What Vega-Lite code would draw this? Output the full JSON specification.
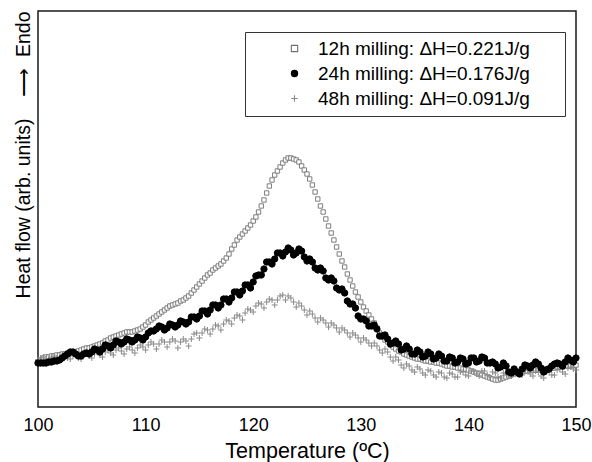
{
"$schema": "https://vega.github.io/schema/vega-lite/v6.json",
"width": 538, "height": 396,
"autosize": "none",
"padding": {"left": 38, "top": 11, "right": 16, "bottom": 55},
"background": "white",
"config": {
  "view": {"stroke": "#1a1a1a", "strokeWidth": 1.5},
  "font": "Liberation Sans",
  "axis": {"grid": false, "domain": false},
  "legend": {"orient": "none", "legendX": 207, "legendY": 21, "strokeColor": "#333333", "padding": 7, "symbolOffset": 33, "labelOffset": 14, "rowPadding": 5, "labelFontSize": 19, "labelColor": "black", "labelLimit": 500, "symbolSize": 40, "symbolStrokeWidth": 1.1}
},
"encoding": {
  "x": {"field": "t", "type": "quantitative", "scale": {"domain": [100, 150], "nice": false},
    "axis": {"title": "Temperature (ºC)", "values": [100,110,120,130,140,150], "ticks": false,
      "labelFontSize": 18, "labelColor": "black", "labelPadding": 9, "labelFlush": false,
      "titleFontSize": 21.5, "titleFontWeight": "normal", "titleColor": "black", "titlePadding": 6}},
  "y": {"field": "v", "type": "quantitative", "scale": {"domain": [0, 396], "nice": false, "zero": false},
    "axis": {"title": "Heat flow (arb. units)\u00a0\u00a0\u00a0\u00a0⟶\u00a0\u00a0Endo", "titleAnchor": "end", "ticks": false, "labels": false,
      "titlePadding": 5, "titleFontSize": 19.5, "titleFontWeight": "normal", "titleColor": "black"}}
},
"layer": [
 {
  "data": {"values": [
{"t":100,"a":45,"b":44,"c":47},{"t":100.25,"a":47,"b":44,"c":49},{"t":100.5,"a":49,"b":44,"c":50},{"t":100.75,"a":50,"b":44,"c":48},
{"t":101,"a":50,"b":45,"c":48},{"t":101.25,"a":51,"b":45,"c":50},{"t":101.5,"a":51,"b":46,"c":51},{"t":101.75,"a":52,"b":46,"c":49},
{"t":102,"a":52,"b":47,"c":49},{"t":102.25,"a":53,"b":49,"c":52},{"t":102.5,"a":53,"b":51,"c":52},{"t":102.75,"a":54,"b":53,"c":49},
{"t":103,"a":54,"b":55,"c":48},{"t":103.25,"a":55,"b":55,"c":51},{"t":103.5,"a":55,"b":53,"c":52},{"t":103.75,"a":56,"b":51,"c":49},
{"t":104,"a":57,"b":51,"c":48},{"t":104.25,"a":58,"b":53,"c":52},{"t":104.5,"a":59,"b":54,"c":54},{"t":104.75,"a":59,"b":53,"c":51},
{"t":105,"a":60,"b":55,"c":49},{"t":105.25,"a":61,"b":58,"c":53},{"t":105.5,"a":62,"b":57,"c":55},{"t":105.75,"a":63,"b":55,"c":52},
{"t":106,"a":64,"b":58,"c":50},{"t":106.25,"a":66,"b":62,"c":55},{"t":106.5,"a":67,"b":61,"c":57},{"t":106.75,"a":69,"b":59,"c":54},
{"t":107,"a":70,"b":62,"c":52},{"t":107.25,"a":71,"b":66,"c":57},{"t":107.5,"a":72,"b":65,"c":59},{"t":107.75,"a":73,"b":63,"c":56},
{"t":108,"a":74,"b":65,"c":53},{"t":108.25,"a":75,"b":68,"c":58},{"t":108.5,"a":75,"b":67,"c":60},{"t":108.75,"a":75,"b":65,"c":57},
{"t":109,"a":76,"b":67,"c":54},{"t":109.25,"a":77,"b":70,"c":59},{"t":109.5,"a":78,"b":69,"c":62},{"t":109.75,"a":80,"b":67,"c":60},
{"t":110,"a":82,"b":70,"c":57},{"t":110.25,"a":85,"b":74,"c":62},{"t":110.5,"a":87,"b":76,"c":65},{"t":110.75,"a":89,"b":76,"c":63},
{"t":111,"a":91,"b":78,"c":58},{"t":111.25,"a":93,"b":81,"c":63},{"t":111.5,"a":95,"b":80,"c":67},{"t":111.75,"a":97,"b":77,"c":65},
{"t":112,"a":99,"b":79,"c":60},{"t":112.25,"a":101,"b":83,"c":65},{"t":112.5,"a":102,"b":82,"c":68},{"t":112.75,"a":103,"b":80,"c":66},
{"t":113,"a":104,"b":82,"c":59},{"t":113.25,"a":106,"b":86,"c":65},{"t":113.5,"a":107,"b":85,"c":68},{"t":113.75,"a":109,"b":83,"c":66},
{"t":114,"a":111,"b":85,"c":61},{"t":114.25,"a":114,"b":90,"c":68},{"t":114.5,"a":117,"b":90,"c":73},{"t":114.75,"a":120,"b":88,"c":74},
{"t":115,"a":123,"b":91,"c":69},{"t":115.25,"a":126,"b":96,"c":74},{"t":115.5,"a":129,"b":96,"c":78},{"t":115.75,"a":132,"b":93,"c":77},
{"t":116,"a":134,"b":97,"c":73},{"t":116.25,"a":137,"b":102,"c":78},{"t":116.5,"a":139,"b":102,"c":82},{"t":116.75,"a":141,"b":99,"c":81},
{"t":117,"a":143,"b":102,"c":77},{"t":117.25,"a":146,"b":108,"c":83},{"t":117.5,"a":149,"b":108,"c":87},{"t":117.75,"a":153,"b":105,"c":86},
{"t":118,"a":158,"b":109,"c":83},{"t":118.25,"a":162,"b":115,"c":89},{"t":118.5,"a":167,"b":115,"c":92},{"t":118.75,"a":170,"b":112,"c":91},
{"t":119,"a":173,"b":116,"c":87},{"t":119.25,"a":176,"b":122,"c":94},{"t":119.5,"a":179,"b":122,"c":98},{"t":119.75,"a":182,"b":119,"c":97},
{"t":120,"a":186,"b":125,"c":95},{"t":120.25,"a":190,"b":131,"c":101},{"t":120.5,"a":195,"b":132,"c":104},{"t":120.75,"a":201,"b":132,"c":103},
{"t":121,"a":207,"b":138,"c":99},{"t":121.25,"a":214,"b":145,"c":105},{"t":121.5,"a":221,"b":145,"c":108},{"t":121.75,"a":227,"b":143,"c":107},
{"t":122,"a":232,"b":148,"c":102},{"t":122.25,"a":236,"b":154,"c":107},{"t":122.5,"a":240,"b":154,"c":111},{"t":122.75,"a":244,"b":151,"c":112},
{"t":123,"a":247,"b":155,"c":107},{"t":123.25,"a":249,"b":159,"c":111},{"t":123.5,"a":249,"b":157,"c":109},{"t":123.75,"a":248,"b":152,"c":105},
{"t":124,"a":247,"b":154,"c":100},{"t":124.25,"a":245,"b":158,"c":104},{"t":124.5,"a":241,"b":156,"c":101},{"t":124.75,"a":237,"b":150,"c":97},
{"t":125,"a":233,"b":146,"c":92},{"t":125.25,"a":228,"b":148,"c":96},{"t":125.5,"a":222,"b":145,"c":93},{"t":125.75,"a":215,"b":139,"c":89},
{"t":126,"a":208,"b":137,"c":85},{"t":126.25,"a":201,"b":139,"c":89},{"t":126.5,"a":195,"b":136,"c":87},{"t":126.75,"a":188,"b":129,"c":84},
{"t":127,"a":181,"b":127,"c":80},{"t":127.25,"a":174,"b":129,"c":84},{"t":127.5,"a":167,"b":126,"c":82},{"t":127.75,"a":160,"b":119,"c":79},
{"t":128,"a":153,"b":117,"c":75},{"t":128.25,"a":146,"b":118,"c":79},{"t":128.5,"a":140,"b":114,"c":77},{"t":128.75,"a":133,"b":106,"c":74},
{"t":129,"a":127,"b":103,"c":70},{"t":129.25,"a":121,"b":103,"c":74},{"t":129.5,"a":115,"b":99,"c":72},{"t":129.75,"a":110,"b":91,"c":69},
{"t":130,"a":105,"b":88,"c":65},{"t":130.25,"a":100,"b":88,"c":69},{"t":130.5,"a":96,"b":86,"c":67},{"t":130.75,"a":92,"b":81,"c":64},
{"t":131,"a":88,"b":81,"c":61},{"t":131.25,"a":84,"b":82,"c":64},{"t":131.5,"a":79,"b":78,"c":61},{"t":131.75,"a":74,"b":71,"c":57},
{"t":132,"a":70,"b":71,"c":54},{"t":132.25,"a":67,"b":72,"c":58},{"t":132.5,"a":65,"b":68,"c":55},{"t":132.75,"a":62,"b":63,"c":50},
{"t":133,"a":60,"b":64,"c":46},{"t":133.25,"a":58,"b":66,"c":50},{"t":133.5,"a":56,"b":63,"c":47},{"t":133.75,"a":55,"b":57,"c":42},
{"t":134,"a":53,"b":58,"c":39},{"t":134.25,"a":52,"b":61,"c":43},{"t":134.5,"a":51,"b":58,"c":41},{"t":134.75,"a":50,"b":53,"c":37},
{"t":135,"a":49,"b":53,"c":35},{"t":135.25,"a":48,"b":57,"c":40},{"t":135.5,"a":48,"b":55,"c":38},{"t":135.75,"a":47,"b":50,"c":34},
{"t":136,"a":46,"b":51,"c":32},{"t":136.25,"a":46,"b":55,"c":37},{"t":136.5,"a":45,"b":53,"c":36},{"t":136.75,"a":45,"b":48,"c":32},
{"t":137,"a":44,"b":49,"c":30},{"t":137.25,"a":44,"b":53,"c":35},{"t":137.5,"a":43,"b":51,"c":34},{"t":137.75,"a":42,"b":46,"c":30},
{"t":138,"a":41,"b":46,"c":29},{"t":138.25,"a":41,"b":50,"c":34},{"t":138.5,"a":40,"b":49,"c":33},{"t":138.75,"a":40,"b":44,"c":30},
{"t":139,"a":39,"b":45,"c":30},{"t":139.25,"a":39,"b":49,"c":35},{"t":139.5,"a":38,"b":48,"c":35},{"t":139.75,"a":38,"b":43,"c":32},
{"t":140,"a":37,"b":44,"c":31},{"t":140.25,"a":36,"b":49,"c":36},{"t":140.5,"a":35,"b":49,"c":36},{"t":140.75,"a":34,"b":45,"c":33},
{"t":141,"a":33,"b":46,"c":31},{"t":141.25,"a":32,"b":50,"c":36},{"t":141.5,"a":31,"b":49,"c":36},{"t":141.75,"a":30,"b":44,"c":32},
{"t":142,"a":29,"b":44,"c":30},{"t":142.25,"a":28,"b":45,"c":35},{"t":142.5,"a":27,"b":43,"c":34},{"t":142.75,"a":27,"b":39,"c":30},
{"t":143,"a":28,"b":40,"c":29},{"t":143.25,"a":29,"b":44,"c":34},{"t":143.5,"a":30,"b":41,"c":34},{"t":143.75,"a":31,"b":35,"c":31},
{"t":144,"a":32,"b":34,"c":31},{"t":144.25,"a":33,"b":38,"c":36},{"t":144.5,"a":34,"b":35,"c":36},{"t":144.75,"a":35,"b":33,"c":33},
{"t":145,"a":35,"b":38,"c":32},{"t":145.25,"a":36,"b":42,"c":37},{"t":145.5,"a":36,"b":41,"c":37},{"t":145.75,"a":37,"b":39,"c":33},
{"t":146,"a":37,"b":42,"c":31},{"t":146.25,"a":37,"b":45,"c":36},{"t":146.5,"a":37,"b":43,"c":35},{"t":146.75,"a":38,"b":39,"c":31},
{"t":147,"a":38,"b":35,"c":29},{"t":147.25,"a":38,"b":37,"c":35},{"t":147.5,"a":39,"b":38,"c":35},{"t":147.75,"a":39,"b":41,"c":32},
{"t":148,"a":39,"b":43,"c":32},{"t":148.25,"a":40,"b":44,"c":37},{"t":148.5,"a":40,"b":43,"c":38},{"t":148.75,"a":40,"b":41,"c":35},
{"t":149,"a":41,"b":45,"c":33},{"t":149.25,"a":41,"b":49,"c":39},{"t":149.5,"a":41,"b":47,"c":40},{"t":149.75,"a":42,"b":45,"c":38},
{"t":150,"a":42,"b":49,"c":37}
  ]},
  "transform": [{"fold": ["a", "b", "c"], "as": ["s", "v"]}],
  "encoding": {
    "shape": {"field": "s", "type": "nominal", "scale": {"domain": ["a", "b", "c"], "range": ["square", "circle", "M-1,0H1M0,-1V1"]},
      "legend": {"title": null, "labelExpr": "datum.label === 'a' ? '12h milling: ΔH=0.221J/g\u2800\u2800' : datum.label === 'b' ? '24h milling: ΔH=0.176J/g' : '48h milling: ΔH=0.091J/g'"}},
    "fill": {"field": "s", "type": "nominal", "scale": {"domain": ["a", "b", "c"], "range": ["white", "black", "transparent"]},
      "legend": {"title": null, "labelExpr": "datum.label === 'a' ? '12h milling: ΔH=0.221J/g\u2800\u2800' : datum.label === 'b' ? '24h milling: ΔH=0.176J/g' : '48h milling: ΔH=0.091J/g'"}},
    "stroke": {"field": "s", "type": "nominal", "scale": {"domain": ["a", "b", "c"], "range": ["#707070", "black", "#8a8a8a"]},
      "legend": {"title": null, "labelExpr": "datum.label === 'a' ? '12h milling: ΔH=0.221J/g\u2800\u2800' : datum.label === 'b' ? '24h milling: ΔH=0.176J/g' : '48h milling: ΔH=0.091J/g'"}}
  },
  "layer": [
    {"transform": [{"filter": "datum.s === 'a'"}], "mark": {"type": "point", "size": 19, "strokeWidth": 0.9, "opacity": 1}},
    {"transform": [{"filter": "datum.s === 'c'"}], "mark": {"type": "point", "size": 36, "strokeWidth": 1, "opacity": 1}},
    {"transform": [{"filter": "datum.s === 'b'"}], "mark": {"type": "point", "size": 40, "strokeWidth": 1, "opacity": 1}}
  ]
 },
 {
  "data": {"values": [{"t":102},{"t":104},{"t":106},{"t":108},{"t":112},{"t":114},{"t":116},{"t":118},{"t":122},{"t":124},{"t":126},{"t":128},{"t":132},{"t":134},{"t":136},{"t":138},{"t":142},{"t":144},{"t":146},{"t":148}]},
  "mark": {"type": "rule", "color": "black", "strokeWidth": 1.4},
  "encoding": {"y": {"datum": 0, "type": "quantitative", "title": "Heat flow (arb. units)\u00a0\u00a0\u00a0\u00a0⟶\u00a0\u00a0Endo"}, "y2": {"datum": 4.5}}
 },
 {
  "data": {"values": [{"t":110},{"t":120},{"t":130},{"t":140}]},
  "mark": {"type": "rule", "color": "black", "strokeWidth": 1.4},
  "encoding": {"y": {"datum": 0, "type": "quantitative", "title": "Heat flow (arb. units)\u00a0\u00a0\u00a0\u00a0⟶\u00a0\u00a0Endo"}, "y2": {"datum": 8}}
 }
]
}
